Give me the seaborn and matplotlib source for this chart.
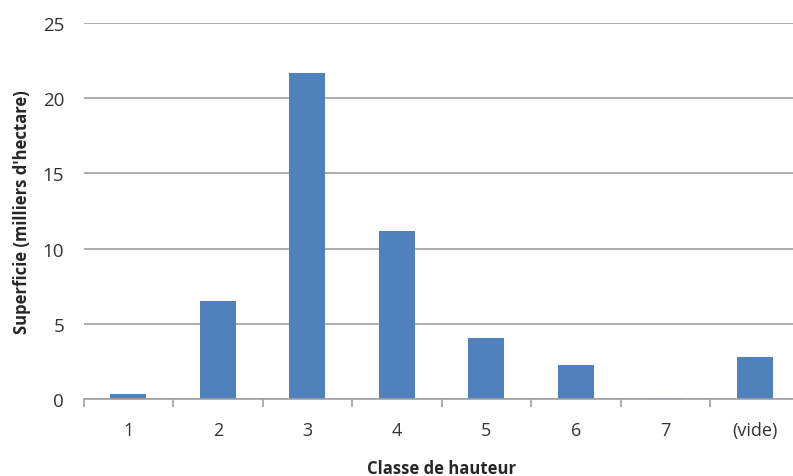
import matplotlib
matplotlib.use("Agg")
import matplotlib.pyplot as plt
import seaborn as sns
import pandas as pd
import numpy as np

# données
classes = ["1", "2", "3", "4", "5", "6", "7", "(vide)"]
superficie = [0.3, 6.5, 21.7, 11.2, 4.05, 2.25, 0.1, 2.8]
y_ticks = [0, 5, 10, 15, 20, 25]

df = pd.DataFrame({"classe": classes, "superficie": superficie})

sns.set_style("white")
plt.rcParams['font.family'] = ['Open Sans', 'DejaVu Sans']

fig = plt.figure(figsize=(7.93, 4.77), dpi=100)
ax = fig.add_axes([0.1053, 0.1614, 0.9029, 0.7883])

sns.barplot(data=df, x="classe", y="superficie", color="#4F81BD",
            saturation=1, width=0.4, linewidth=0, ax=ax)

ax.set_ylim(0, 25)
ax.set_xlim(-0.5, len(classes) - 0.5)
ax.set_yticks(y_ticks)
ax.yaxis.grid(True, color="#A0A0A0", linewidth=1.2)
ax.set_axisbelow(True)

for side in ["left", "right", "top"]:
    ax.spines[side].set_visible(False)
ax.spines["bottom"].set_color("#A0A0A0")
ax.spines["bottom"].set_linewidth(1.2)

# petites graduations entre les catégories
ax.set_xticks(np.arange(-0.5, len(classes), 1), minor=True)
ax.tick_params(axis="x", which="minor", bottom=True, direction="out",
               length=6, color="#A0A0A0", width=1.2)
ax.tick_params(axis="x", which="major", length=0, pad=16, labelsize=13, labelcolor="#333333")
ax.tick_params(axis="y", length=0, pad=14, labelsize=13.5, labelcolor="#333333")

ax.set_xlabel("Classe de hauteur", fontsize=12, fontweight="bold", labelpad=14)
ax.set_ylabel("Superficie (milliers d'hectare)", fontsize=12, fontweight="bold", labelpad=8)

fig.savefig("out.png", dpi=100)
